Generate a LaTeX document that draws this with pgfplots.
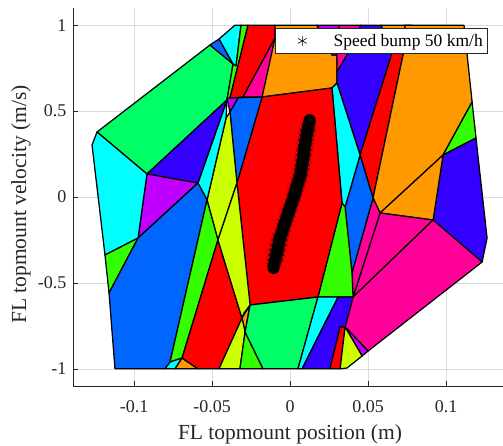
\documentclass[border=0pt]{standalone}
\usepackage{pgfplots}
\usepackage{pgfplotstable}
\pgfplotsset{compat=1.18}
\usepackage{fontspec}
\setmainfont{Liberation Serif}
\definecolor{cSpring}{HTML}{00FF66}
\definecolor{cGreen}{HTML}{33FF00}
\definecolor{cLime}{HTML}{CCFF00}
\definecolor{cCyan}{HTML}{00FFFF}
\definecolor{cAzure}{HTML}{0066FF}
\definecolor{cIndigo}{HTML}{3300FF}
\definecolor{cViolet}{HTML}{BF00FF}
\definecolor{cMagenta}{HTML}{FF0099}
\definecolor{cRed}{HTML}{FF0000}
\definecolor{cOrange}{HTML}{FF9900}
\definecolor{axgray}{HTML}{262626}
\pgfplotsset{poly/.style={forget plot, draw=black, line width=1.25pt, line join=round, fill=#1}}
\pgfplotstableread{
y xc xl xr
0.4482 0.0126 0.0104 0.0148
0.4191 0.0119 0.0089 0.0149
0.3900 0.0113 0.0077 0.0149
0.3609 0.0106 0.0070 0.0142
0.3318 0.0101 0.0065 0.0137
0.3027 0.0096 0.0060 0.0132
0.2736 0.0091 0.0055 0.0127
0.2445 0.0087 0.0051 0.0123
0.2154 0.0082 0.0046 0.0118
0.1863 0.0077 0.0041 0.0113
0.1572 0.0072 0.0036 0.0108
0.1281 0.0067 0.0031 0.0103
0.0989 0.0057 0.0021 0.0093
0.0698 0.0047 0.0011 0.0083
0.0407 0.0037 0.0001 0.0073
0.0116 0.0028 -0.0008 0.0064
-0.0175 0.0018 -0.0018 0.0054
-0.0466 0.0006 -0.0030 0.0042
-0.0757 -0.0004 -0.0040 0.0032
-0.1048 -0.0015 -0.0051 0.0021
-0.1339 -0.0026 -0.0062 0.0010
-0.1630 -0.0037 -0.0073 -0.0001
-0.1921 -0.0047 -0.0083 -0.0011
-0.2212 -0.0058 -0.0096 -0.0020
-0.2503 -0.0067 -0.0107 -0.0027
-0.2794 -0.0074 -0.0114 -0.0034
-0.3085 -0.0081 -0.0121 -0.0041
-0.3376 -0.0088 -0.0128 -0.0048
-0.3667 -0.0095 -0.0133 -0.0057
-0.3958 -0.0103 -0.0135 -0.0071
-0.4133 -0.0106 -0.0128 -0.0084
}\bandtable
\begin{document}
\begin{tikzpicture}
\useasboundingbox (-73pt,-59pt) rectangle (430pt,386pt);
\begin{axis}[
  at={(0pt,0pt)}, anchor=south west,
  scale only axis, width=430pt, height=378pt,
  xmin=-0.1391, xmax=0.1365, ymin=-1.1, ymax=1.1,
  axis lines*=left,
  axis line style={draw=axgray, line width=0.6pt},
  xtick={-0.1,-0.05,0,0.05,0.1}, xticklabels={-0.1,-0.05,0,0.05,0.1},
  ytick={-1,-0.5,0,0.5,1}, yticklabels={-1,-0.5,0,0.5,1},
  tick align=inside, major tick length=5pt,
  tick style={draw=axgray, line width=0.6pt},
  grid=major, major grid style={draw=black!14, line width=0.6pt},
  tick label style={font=\fontsize{18}{20}\selectfont, text=axgray},
  xticklabel style={yshift=-11pt},
  yticklabel style={xshift=-3pt},
  xlabel={FL topmount position (m)},
  ylabel={FL topmount velocity (m/s)},
  label style={font=\fontsize{21.5}{24}\selectfont, text=axgray},
  xlabel style={at={(axis description cs:0.5047,-0.127)}, anchor=center},
  ylabel style={at={(axis description cs:-0.121,0.48)}, anchor=center, rotate=0},
  legend style={at={(0.9628,0.9471)}, anchor=north east, draw=axgray, line width=0.5pt, fill=white,
    font=\fontsize{17.5}{21}\selectfont, inner xsep=2pt, inner ysep=3.8pt},
  legend cell align=left,
]
% partition regions
\addplot[poly=cSpring] coordinates {(-0.1237,0.3783) (-0.0513,0.8847) (-0.0365,0.7742) (-0.0404,0.5646) (-0.0917,0.1339)} -- cycle;
\addplot[poly=cAzure] coordinates {(-0.0513,0.8847) (-0.0455,0.9197) (-0.0365,0.7742)} -- cycle;
\addplot[poly=cCyan] coordinates {(-0.0455,0.9197) (-0.0353,1) (-0.0314,1) (-0.0346,0.7625) (-0.0365,0.7742)} -- cycle;
\addplot[poly=cGreen] coordinates {(-0.0314,1) (-0.0269,1) (-0.0385,0.5763) (-0.0404,0.5646) (-0.0365,0.7742) (-0.0346,0.7625)} -- cycle;
\addplot[poly=cRed] coordinates {(-0.0269,1) (-0.0096,1) (-0.0096,0.9255) (-0.0301,0.5821) (-0.0385,0.5763)} -- cycle;
\addplot[poly=cMagenta] coordinates {(-0.0096,0.9255) (-0.0173,0.5821) (-0.0301,0.5821)} -- cycle;
\addplot[poly=cOrange] coordinates {(-0.0096,1) (0.0173,1) (0.0269,0.8265) (0.0301,0.8265) (0.0301,0.6636) (0.0269,0.6345) (-0.0179,0.5821) (-0.0096,0.9255)} -- cycle;
\addplot[poly=cViolet] coordinates {(0.0173,1) (0.0314,1) (0.0301,0.8265) (0.0269,0.8265)} -- cycle;
\addplot[poly=cMagenta] coordinates {(0.0314,1) (0.0455,1) (0.0365,0.8265) (0.0301,0.7276) (0.0301,0.8265)} -- cycle;
\addplot[poly=cIndigo] coordinates {(0.0455,1) (0.0583,1) (0.0660,0.8556) (0.0449,0.2445) (0.0301,0.6636) (0.0301,0.7276) (0.0365,0.8265)} -- cycle;
\addplot[poly=cOrange] coordinates {(0.0583,1) (0.0737,1) (0.0731,0.8556) (0.0660,0.8556)} -- cycle;
\addplot[poly=cRed] coordinates {(0.0660,0.8556) (0.0731,0.8556) (0.0532,-0.0058) (0.0449,0.2445)} -- cycle;
\addplot[poly=cGreen] coordinates {(0.0737,1) (0.0782,1) (0.0744,0.9139)} -- cycle;
\addplot[poly=cOrange] coordinates {(0.0737,1) (0.1115,1) (0.1167,0.5530) (0.0981,0.2445) (0.0577,-0.0931) (0.0532,-0.0058) (0.0731,0.8556)} -- cycle;
\addplot[poly=cGreen] coordinates {(0.0981,0.2445) (0.1167,0.5530) (0.1192,0.3434)} -- cycle;
\addplot[poly=cIndigo] coordinates {(0.0981,0.2445) (0.1192,0.3434) (0.1263,-0.2387) (0.1231,-0.3783) (0.0917,-0.1339)} -- cycle;
\addplot[poly=cOrange] coordinates {(0.0981,0.2445) (0.0917,-0.1339) (0.0577,-0.0931)} -- cycle;
\addplot[poly=cMagenta] coordinates {(0.0577,-0.0931) (0.0917,-0.1339) (0.0404,-0.5821)} -- cycle;
\addplot[poly=cMagenta] coordinates {(0.0917,-0.1339) (0.1231,-0.3783) (0.0500,-0.8964) (0.0353,-0.7567) (0.0404,-0.5821)} -- cycle;
\addplot[poly=cMagenta] coordinates {(0.0532,-0.0058) (0.0577,-0.0931) (0.0404,-0.5821) (0.0397,-0.4424)} -- cycle;
\addplot[poly=cAzure] coordinates {(0.0449,0.2445) (0.0532,-0.0058) (0.0397,-0.4424) (0.0353,-0.0582)} -- cycle;
\addplot[poly=cCyan] coordinates {(0.0269,0.6345) (0.0301,0.6636) (0.0449,0.2445) (0.0353,-0.0582) (0.0333,-0.0349)} -- cycle;
\addplot[poly=cGreen] coordinates {(0.0333,-0.0349) (0.0353,-0.0582) (0.0397,-0.4424) (0.0404,-0.5821) (0.0179,-0.5821)} -- cycle;
\addplot[poly=cRed] coordinates {(-0.0179,0.5821) (0.0269,0.6345) (0.0333,-0.0349) (0.0179,-0.5821) (-0.0256,-0.6286) (-0.0340,0.0815)} -- cycle;
\addplot[poly=cAzure] coordinates {(-0.0372,0.5763) (-0.0179,0.5821) (-0.0340,0.0815) (-0.0385,0.4948)} -- cycle;
\addplot[poly=cViolet] coordinates {(-0.0404,0.5763) (-0.0333,0.5763) (-0.0385,0.4948)} -- cycle;
\addplot[poly=cLime] coordinates {(-0.0410,0.4598) (-0.0385,0.4948) (-0.0340,0.0815) (-0.0462,-0.2503) (-0.0532,-0.0175)} -- cycle;
\addplot[poly=cCyan] coordinates {(-0.0404,0.5646) (-0.0410,0.4598) (-0.0532,-0.0175) (-0.0590,0.0815)} -- cycle;
\addplot[poly=cIndigo] coordinates {(-0.0917,0.1339) (-0.0404,0.5646) (-0.0590,0.0815)} -- cycle;
\addplot[poly=cViolet] coordinates {(-0.0917,0.1339) (-0.0590,0.0815) (-0.0974,-0.2387)} -- cycle;
\addplot[poly=cCyan] coordinates {(-0.1237,0.3783) (-0.0917,0.1339) (-0.0974,-0.2387) (-0.1186,-0.3376) (-0.1269,0.3027)} -- cycle;
\addplot[poly=cGreen] coordinates {(-0.1186,-0.3376) (-0.0974,-0.2387) (-0.1160,-0.5588)} -- cycle;
\addplot[poly=cAzure] coordinates {(-0.0974,-0.2387) (-0.0590,0.0815) (-0.0532,-0.0175) (-0.0769,-0.9604) (-0.0801,-1) (-0.1122,-1) (-0.1160,-0.5588)} -- cycle;
\addplot[poly=cGreen] coordinates {(-0.0532,-0.0175) (-0.0462,-0.2503) (-0.0692,-0.9371) (-0.0769,-0.9604)} -- cycle;
\addplot[poly=cCyan] coordinates {(-0.0769,-0.9604) (-0.0692,-0.9371) (-0.0737,-1) (-0.0801,-1)} -- cycle;
\addplot[poly=cOrange] coordinates {(-0.0692,-0.9371) (-0.0590,-1) (-0.0737,-1)} -- cycle;
\addplot[poly=cRed] coordinates {(-0.0462,-0.2503) (-0.0308,-0.7043) (-0.0455,-1) (-0.0590,-1) (-0.0692,-0.9371)} -- cycle;
\addplot[poly=cLime] coordinates {(-0.0340,0.0815) (-0.0256,-0.6286) (-0.0295,-0.6752) (-0.0308,-0.7043) (-0.0462,-0.2503)} -- cycle;
\addplot[poly=cOrange] coordinates {(-0.0256,-0.6286) (-0.0288,-0.7858) (-0.0308,-0.7043)} -- cycle;
\addplot[poly=cLime] coordinates {(-0.0308,-0.7043) (-0.0288,-0.7858) (-0.0321,-1) (-0.0455,-1)} -- cycle;
\addplot[poly=cGreen] coordinates {(-0.0288,-0.7858) (-0.0173,-1) (-0.0321,-1)} -- cycle;
\addplot[poly=cSpring] coordinates {(-0.0256,-0.6286) (0.0179,-0.5821) (0.0051,-1) (-0.0173,-1) (-0.0288,-0.7858)} -- cycle;
\addplot[poly=cCyan] coordinates {(0.0179,-0.5821) (0.0308,-0.5821) (0.0077,-1) (0.0051,-1)} -- cycle;
\addplot[poly=cIndigo] coordinates {(0.0308,-0.5821) (0.0404,-0.5821) (0.0353,-0.7567) (0.0321,-0.7567) (0.0256,-1) (0.0077,-1)} -- cycle;
\addplot[poly=cRed] coordinates {(0.0321,-0.7567) (0.0353,-0.7567) (0.0321,-1) (0.0256,-1)} -- cycle;
\addplot[poly=cViolet] coordinates {(0.0353,-0.7567) (0.0500,-0.8964) (0.0462,-0.9255)} -- cycle;
\addplot[poly=cLime] coordinates {(0.0353,-0.7567) (0.0462,-0.9255) (0.0365,-0.9953) (0.0321,-1)} -- cycle;
% speed bump trajectory
\addplot[forget plot, black, line width=12pt, line cap=round, line join=round] table[x=xc, y=y] {\bandtable};
\addplot[only marks, mark=asterisk, mark size=3pt, black, line width=0.4pt,
  legend image code/.code={\path (0pt,0pt) (54pt,0pt); \draw[black, line width=0.6pt, mark=asterisk, mark size=5pt] plot coordinates {(25pt,0pt)};}]
  table[x=xl, y=y] {\bandtable};
\addlegendentry{Speed bump 50 km/h}
\addplot[forget plot, only marks, mark=asterisk, mark size=3pt, black, line width=0.4pt] table[x=xr, y=y] {\bandtable};
\addplot[forget plot, only marks, mark=asterisk, mark size=3pt, black, line width=0.4pt] table[x=xc, y=y] {\bandtable};
\end{axis}
\end{tikzpicture}
\end{document}
